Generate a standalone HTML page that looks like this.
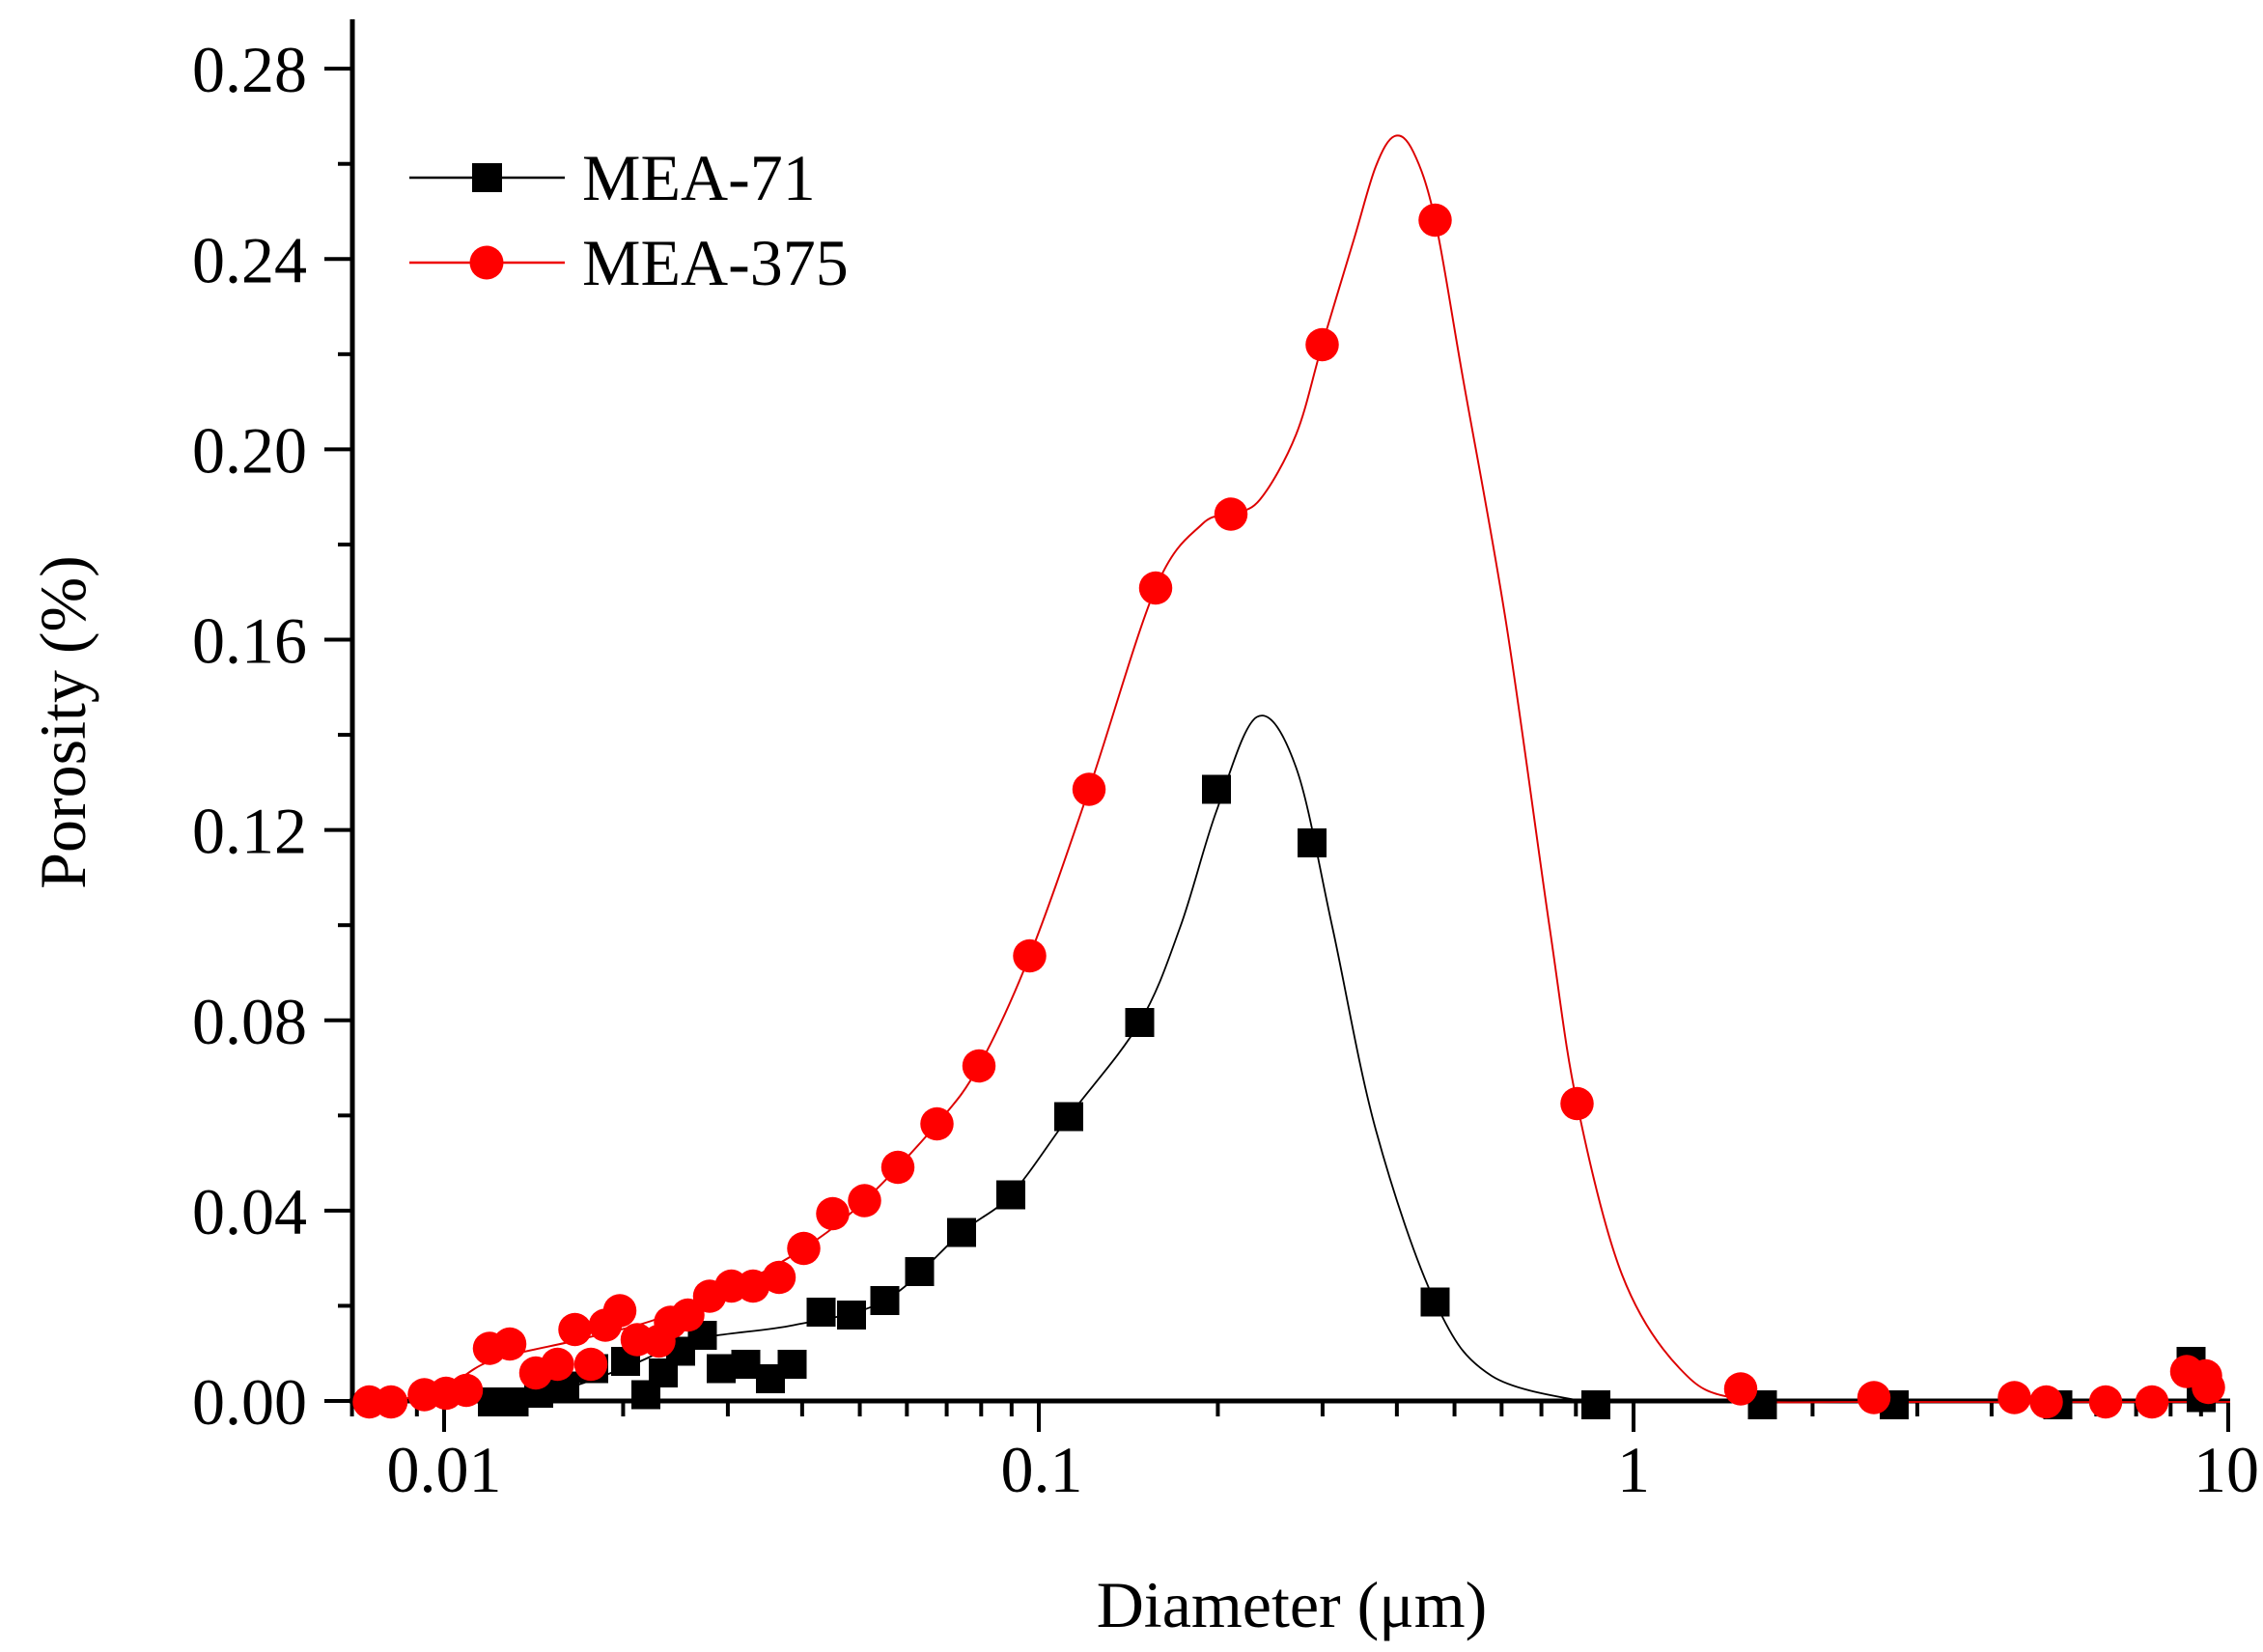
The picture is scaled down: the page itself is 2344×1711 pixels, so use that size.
<!DOCTYPE html>
<html><head><meta charset="utf-8"><style>
html,body{margin:0;padding:0;background:#fff}
svg{display:block}
text{font-family:"Liberation Serif",serif;fill:#000}
</style></head><body>
<svg id="s" width="2344" height="1711" viewBox="0 0 2344 1711" xmlns="http://www.w3.org/2000/svg">
<g id="axes" stroke="#000" stroke-width="5" fill="none">
<line x1="365" y1="20" x2="365" y2="1453"/>
<line x1="362" y1="1451" x2="2310" y2="1451"/>
</g>
<g id="ticks" stroke="#000" stroke-width="4"></g>
<g font-size="68" text-anchor="end" id="ylab"></g>
<g font-size="68" text-anchor="middle">
<text x="460" y="1545">0.01</text>
<text x="1079" y="1545">0.1</text>
<text x="1692" y="1545">1</text>
<text x="2306" y="1545">10</text>
</g>
<text x="1338" y="1685" font-size="68" text-anchor="middle">Diameter (μm)</text>
<text transform="translate(88,748) rotate(-90)" font-size="68" text-anchor="middle">Porosity (%)</text>
<g transform="scale(1.5)" id="data"></g>
<g>
<line x1="424" y1="184" x2="585" y2="184" stroke="#000" stroke-width="2.5"/>
<rect x="489" y="169" width="31" height="30" fill="#000"/>
<line x1="424" y1="272" x2="585" y2="272" stroke="#e00" stroke-width="2.5"/>
<circle cx="504" cy="272" r="17.5" fill="#f00"/>
<text x="603" y="207" font-size="68">MEA-71</text>
<text x="603" y="295" font-size="68">MEA-375</text>
</g>
</svg>
<script>
var NS="http://www.w3.org/2000/svg";
function el(t,a,p){var e=document.createElementNS(NS,t);for(var k in a)e.setAttribute(k,a[k]);p.appendChild(e);return e;}
var tk=document.getElementById('ticks'),yl=document.getElementById('ylab');
var y0=1451,dy=4928;
for(var i=0;i<=14;i++){var v=i*0.02,y=y0-v*dy;var maj=i%2==0;
 el('line',{x1:maj?336:350,y1:y,x2:365,y2:y},tk);
 if(maj){var t=el('text',{x:318,y:y+24},yl);t.textContent=v.toFixed(2);}}
function px(d){return 460+616*Math.log10(d/0.01);}
for(var e=-3;e<=0;e++){for(var m=1;m<=9;m++){var d=m*Math.pow(10,e);var x=px(d);if(x<362||x>2312)continue;
 el('line',{x1:x,y1:1451,x2:x,y2:m==1?1483:1467},tk);}}
el('line',{x1:px(10),y1:1451,x2:px(10),y2:1483},tk);
function cr(p){var s="M"+p[0][0]+","+p[0][1];for(var i=0;i<p.length-1;i++){var a=p[i-1]||p[i],b=p[i],c=p[i+1],d=p[i+2]||c;
 s+=" C"+(b[0]+(c[0]-a[0])/6)+","+(b[1]+(c[1]-a[1])/6)+" "+(c[0]-(d[0]-b[0])/6)+","+(c[1]-(d[1]-b[1])/6)+" "+c[0]+","+c[1];}return s;}
var g=document.getElementById('data');
var bc=[[335,969],[380,962],[430,945],[480,925],[548,915],[611,898],[664,851],[698,825],[738,771],[787,706],[815,640],[840,560],[868,495],[895,530],[920,640],[950,780],[991,899],[1030,950],[1100,969]];
var rc=[[245,968],[300,962],[338,940],[400,925],[450,912],[500,892],[555,862],[597,829],[647,776],[676,736],[711,660],[752,545],[798,406],[830,362],[850,355],[870,345],[895,300],[913,238],[935,165],[950,115],[963,94],[976,105],[991,152],[1010,260],[1040,430],[1070,640],[1089,762],[1120,880],[1160,945],[1202,966],[1300,968],[1540,968]];
el('path',{d:cr(bc),fill:'none',stroke:'#000','stroke-width':1.2},g);
el('path',{d:cr(rc),fill:'none',stroke:'#d00','stroke-width':1.3},g);
var R=[[255,968],[270,968],[293,963],[308,962],[322,960],[338,931],[352,928],[370,948],[385,942],[397,918],[408,942],[418,915],[428,905],[440,925],[455,926],[463,913],[475,908],[490,895],[505,888],[520,888],[538,882],[555,862],[575,838],[597,829],[620,806],[647,776],[676,736],[711,660],[752,545],[798,406],[850,355],[913,238],[991,152],[1089,762],[1202,959],[1294,965],[1391,965],[1413,968],[1454,968],[1486,968],[1510,947],[1523,950],[1525,958]];
var B=[[340,968],[355,968],[372,962],[390,957],[410,945],[432,940],[446,963],[458,948],[470,933],[485,922],[498,945],[515,942],[532,952],[547,942],[567,906],[588,908],[611,898],[635,878],[664,851],[698,825],[738,771],[787,706],[840,545],[906,582],[991,899],[1102,970],[1217,970],[1308,970],[1421,970],[1513,940],[1520,965]];
B.forEach(function(p){el('rect',{x:p[0]-10,y:p[1]-10,width:20,height:20,fill:'#000'},g);});
R.forEach(function(p){el('circle',{cx:p[0],cy:p[1],r:11.5,fill:'#f00'},g);});
</script>
</body></html>
